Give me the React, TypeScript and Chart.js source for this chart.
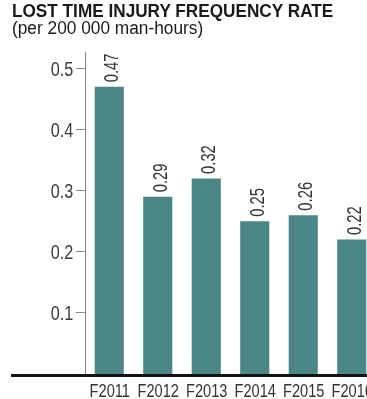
import React, { useEffect, useRef } from "react";
import { Chart, registerables } from "chart.js";

Chart.register(...registerables);

const title = "LOST TIME INJURY FREQUENCY RATE";
const subtitle = "(per 200 000 man-hours)";
const categories = ["F2011", "F2012", "F2013", "F2014", "F2015", "F2016"];
const values = [0.47, 0.29, 0.32, 0.25, 0.26, 0.22];
const yTicks = [0.1, 0.2, 0.3, 0.4, 0.5];

const FONT = "'Liberation Sans', Arial, Helvetica, sans-serif";
const BAR = "#4a8685";

function drawCondensed(ctx: any, text: string, x: number, y: number, sx: number, align: string, rot = 0) {
  ctx.save();
  ctx.translate(x, y);
  if (rot) ctx.rotate(rot);
  ctx.scale(sx, 1);
  ctx.textAlign = align;
  ctx.textBaseline = "alphabetic";
  ctx.fillText(text, 0, 0);
  ctx.restore();
}

export default function App() {
  const ref = useRef<HTMLCanvasElement | null>(null);

  useEffect(() => {
    if (!ref.current) return;
    const labels = {
      id: "labels",
      afterDatasetsDraw(chart: any) {
        const ctx = chart.ctx;
        const meta = chart.getDatasetMeta(0);
        const ys = chart.scales.y;
        ctx.save();
        // value labels, rotated
        ctx.fillStyle = "#333";
        const vSize = 19.5;
        ctx.font = `${vSize}px ${FONT}`;
        meta.data.forEach((el: any, i: number) => {
          drawCondensed(ctx, values[i].toFixed(2), el.x + 2 + 0.716 * vSize / 2, el.y - 4.5, 0.76, "left", -Math.PI / 2);
        });
        // y tick labels
        const tSize = 20;
        ctx.font = `${tSize}px ${FONT}`;
        ctx.fillStyle = "#3c3c3c";
        yTicks.forEach((v) => {
          const y = ys.getPixelForValue(v);
          drawCondensed(ctx, v.toFixed(1), 73.3, y + 0.716 * tSize / 2, 0.81, "right");
        });
        // x tick labels
        const xSize = 18.5;
        ctx.font = `${xSize}px ${FONT}`;
        ctx.fillStyle = "#333";
        meta.data.forEach((el: any, i: number) => {
          drawCondensed(ctx, categories[i], el.x + 0.5, 397, 0.79, "center");
        });
        ctx.restore();
      },
    };
    const baseline = {
      id: "baseline",
      afterDraw(chart: any) {
        const ctx = chart.ctx;
        const y = chart.scales.y.getPixelForValue(0);
        ctx.save();
        ctx.fillStyle = "#111";
        ctx.fillRect(11, Math.round(y), chart.width, 3);
        ctx.restore();
      },
    };
    const chart = new Chart(ref.current, {
      type: "bar",
      data: {
        labels: categories,
        datasets: [
          {
            data: values,
            backgroundColor: BAR,
            borderWidth: 0,
            barPercentage: 0.6,
            categoryPercentage: 1,
          },
        ],
      },
      options: {
        responsive: false,
        animation: false,
        layout: { autoPadding: false, padding: { top: 52, left: 0, right: 0, bottom: 0 } },
        plugins: { legend: { display: false }, tooltip: { enabled: false }, title: { display: false } },
        scales: {
          x: {
            grid: { display: false, drawTicks: false },
            border: { display: false },
            ticks: { display: false },
            afterFit(scale: any) {
              scale.height = 25;
            },
          },
          y: {
            min: 0,
            max: 0.527,
            grid: { display: true, drawOnChartArea: false, drawTicks: true, tickLength: 9, color: "#8a8a8a", lineWidth: 1 },
            border: { display: true, color: "#8a8a8a", width: 1 },
            ticks: { display: false, stepSize: 0.1 },
            afterBuildTicks(scale: any) {
              scale.ticks = yTicks.map((v) => ({ value: v }));
            },
            afterFit(scale: any) {
              scale.width = 85;
            },
          },
        },
      },
      plugins: [labels, baseline],
    });
    return () => chart.destroy();
  }, []);

  return (
    <div style={{ position: "fixed", left: 0, top: 0, width: 367, height: 399, overflow: "hidden", background: "#fff" }}>
      <canvas ref={ref} width={376} height={399} style={{ position: "absolute", left: 0, top: 0 }} />
      <div style={{ position: "absolute", left: 12, top: 1.4, font: `bold 18px ${FONT}`, color: "#1a1a1a", whiteSpace: "nowrap", transform: "scaleX(0.955)", transformOrigin: "0 0" }}>
        {title}
      </div>
      <div style={{ position: "absolute", left: 12, top: 18.4, font: `18px ${FONT}`, color: "#1a1a1a", whiteSpace: "nowrap", transform: "scaleX(0.96)", transformOrigin: "0 0" }}>
        {subtitle}
      </div>
    </div>
  );
}
